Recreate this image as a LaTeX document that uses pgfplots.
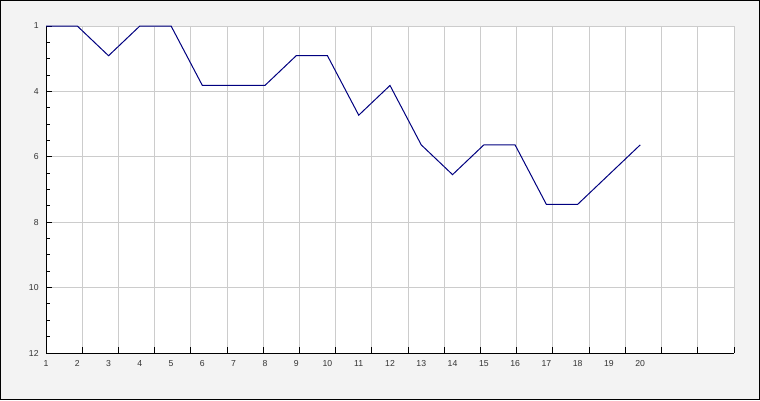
\documentclass[border=0pt]{standalone}
\usepackage{fontspec}
\setmainfont{Liberation Sans}
\usepackage{pgfplots}
\pgfplotsset{compat=1.18}
\definecolor{bg}{HTML}{F3F3F3}
\definecolor{gridc}{HTML}{CCCCCC}
\definecolor{navyline}{HTML}{000080}
\begin{document}
\begin{tikzpicture}
\fill[bg] (0pt,0pt) rectangle (570pt,300pt);
\draw[black, line width=0.75pt] (0.375pt,0.375pt) rectangle (569.625pt,299.625pt);
\begin{axis}[
  at={(34.5pt,35.25pt)}, anchor=south west,
  scale only axis, width=516pt, height=245.25pt,
  xmin=1, xmax=23, ymin=1, ymax=12, y dir=reverse,
  axis x line*=bottom, axis y line*=left,
  axis line style={-, black, line width=0.75pt},
  axis background/.style={fill=white},
  clip=false,
  tick align=inside,
  major tick length=4.3pt, minor tick length=3pt,
  tick style={black, line width=0.75pt},
  xtick={1,2.157895,3.315789,4.473684,5.631579,6.789474,7.947368,9.105263,10.263158,11.421053,12.578947,13.736842,14.894737,16.052632,17.210526,18.368421,19.526316,20.684211,21.842105,23},
  xticklabels={},
  extra x ticks={1,2,3,4,5,6,7,8,9,10,11,12,13,14,15,16,17,18,19,20},
  extra x tick labels={1,2,3,4,5,6,7,8,9,10,11,12,13,14,15,16,17,18,19,20},
  extra x tick style={major tick length=0pt, grid=none},
  ytick={1,3.2,5.4,7.6,9.8,12},
  yticklabels={1,4,6,8,10,12},
  minor y tick num=3,
  grid=major,
  major grid style={gridc, line width=0.75pt},
  ticklabel style={font=\fontsize{6.5}{7}\selectfont, text=black!80},
  xticklabel style={yshift=-2pt},
  yticklabel style={xshift=-2pt},
]
\addplot[navyline, line width=0.75pt, mark=none] coordinates {
(1,1) (2,1) (3,2) (4,1) (5,1) (6,3) (7,3) (8,3) (9,2) (10,2)
(11,4) (12,3) (13,5) (14,6) (15,5) (16,5) (17,7) (18,7) (19,6) (20,5)
};
\end{axis}
\end{tikzpicture}
\end{document}
